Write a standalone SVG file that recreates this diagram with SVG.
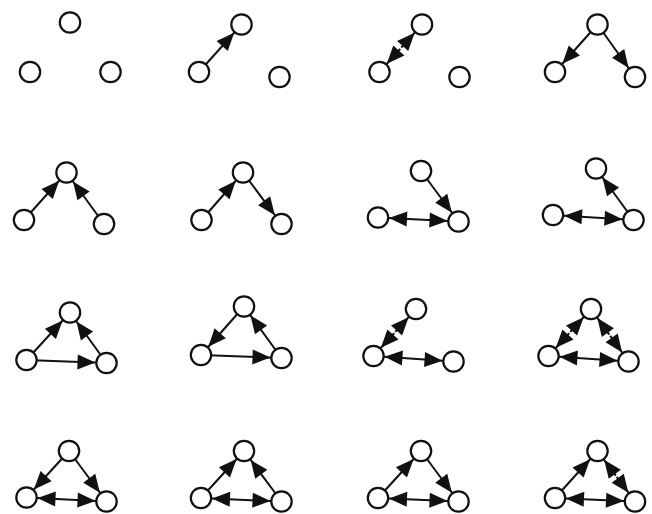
<svg xmlns="http://www.w3.org/2000/svg" width="652" height="514" viewBox="0 0 652 514">
<style>
.node circle{fill:#fff;stroke:#111;stroke-width:2.2}
.e{stroke:#111;stroke-width:2;fill:none}
.a{marker-end:url(#ah)}
.s{marker-start:url(#ah)}
.b{marker-start:url(#ah);marker-end:url(#ah)}
</style>
<defs>
<marker id="ah" markerUnits="userSpaceOnUse" markerWidth="30" markerHeight="15" refX="29" refY="7.5" orient="auto-start-reverse" overflow="visible">
<path d="M0,0 L18,7.5 L0,15 z" fill="#111"/>
</marker>
</defs>
<rect width="652" height="514" fill="#fff"/>
<g id="connectors">
<line class="e a" x1="199" y1="72" x2="241.5" y2="24.5"/>
<line class="e s" x1="379.5" y1="72" x2="400.22" y2="48.85"/>
<line class="e a" x1="401.28" y1="47.65" x2="422" y2="24.5"/>
<line class="e a" x1="597.5" y1="24.5" x2="555" y2="72"/>
<line class="e a" x1="597.5" y1="24.5" x2="635" y2="77"/>
<line class="e a" x1="24" y1="220" x2="66.5" y2="172.5"/>
<line class="e a" x1="104" y1="224" x2="66.5" y2="172.5"/>
<line class="e a" x1="201.5" y1="220" x2="243" y2="172.5"/>
<line class="e a" x1="243" y1="172.5" x2="281.5" y2="224"/>
<line class="e a" x1="421" y1="171" x2="458.5" y2="221.5"/>
<line class="e b" x1="378" y1="217.5" x2="458.5" y2="221.5"/>
<line class="e a" x1="633.5" y1="220" x2="596" y2="168.5"/>
<line class="e b" x1="553" y1="215" x2="633.5" y2="220"/>
<line class="e a" x1="26.5" y1="360" x2="70" y2="312.5"/>
<line class="e a" x1="106.5" y1="363" x2="70" y2="312.5"/>
<line class="e a" x1="26.5" y1="360" x2="106.5" y2="363"/>
<line class="e a" x1="244" y1="306.5" x2="201" y2="355"/>
<line class="e a" x1="281.5" y1="358" x2="244" y2="306.5"/>
<line class="e a" x1="201" y1="355" x2="281.5" y2="358"/>
<line class="e s" x1="373.5" y1="356" x2="394.21" y2="333.09"/>
<line class="e a" x1="395.29" y1="331.91" x2="416" y2="309"/>
<line class="e b" x1="373.5" y1="356" x2="453.5" y2="361.5"/>
<line class="e s" x1="548.5" y1="356" x2="569.21" y2="333.09"/>
<line class="e a" x1="570.29" y1="331.91" x2="591" y2="309"/>
<line class="e s" x1="591" y1="309" x2="609.29" y2="334.6"/>
<line class="e a" x1="610.21" y1="335.9" x2="628.5" y2="361.5"/>
<line class="e b" x1="548.5" y1="356" x2="628.5" y2="361.5"/>
<line class="e a" x1="69" y1="451" x2="26.5" y2="497.5"/>
<line class="e a" x1="69" y1="451" x2="106.5" y2="501.5"/>
<line class="e b" x1="26.5" y1="497.5" x2="106.5" y2="501.5"/>
<line class="e a" x1="201" y1="498" x2="244" y2="451"/>
<line class="e a" x1="281.5" y1="501.5" x2="244" y2="451"/>
<line class="e b" x1="201" y1="498" x2="281.5" y2="501.5"/>
<line class="e a" x1="378" y1="498" x2="421" y2="451"/>
<line class="e a" x1="421" y1="451" x2="458.5" y2="501.5"/>
<line class="e b" x1="378" y1="498" x2="458.5" y2="501.5"/>
<line class="e a" x1="555" y1="498" x2="597.5" y2="451"/>
<line class="e s" x1="597.5" y1="451" x2="615.77" y2="475.61"/>
<line class="e a" x1="616.73" y1="476.89" x2="635" y2="501.5"/>
<line class="e b" x1="555" y1="498" x2="635" y2="501.5"/>
</g>
<g id="m1" class="node"><circle cx="70" cy="22.5" r="10.2"/><circle cx="30" cy="72" r="10.2"/><circle cx="110.5" cy="72" r="10.2"/></g>
<g id="m2" class="node"><circle cx="241.5" cy="24.5" r="10.2"/><circle cx="199" cy="72" r="10.2"/><circle cx="279.5" cy="77" r="10.2"/></g>
<g id="m3" class="node"><circle cx="422" cy="24.5" r="10.2"/><circle cx="379.5" cy="72" r="10.2"/><circle cx="459.5" cy="77" r="10.2"/></g>
<g id="m4" class="node"><circle cx="597.5" cy="24.5" r="10.2"/><circle cx="555" cy="72" r="10.2"/><circle cx="635" cy="77" r="10.2"/></g>
<g id="m5" class="node"><circle cx="66.5" cy="172.5" r="10.2"/><circle cx="24" cy="220" r="10.2"/><circle cx="104" cy="224" r="10.2"/></g>
<g id="m6" class="node"><circle cx="243" cy="172.5" r="10.2"/><circle cx="201.5" cy="220" r="10.2"/><circle cx="281.5" cy="224" r="10.2"/></g>
<g id="m7" class="node"><circle cx="421" cy="171" r="10.2"/><circle cx="378" cy="217.5" r="10.2"/><circle cx="458.5" cy="221.5" r="10.2"/></g>
<g id="m8" class="node"><circle cx="596" cy="168.5" r="10.2"/><circle cx="553" cy="215" r="10.2"/><circle cx="633.5" cy="220" r="10.2"/></g>
<g id="m9" class="node"><circle cx="70" cy="312.5" r="10.2"/><circle cx="26.5" cy="360" r="10.2"/><circle cx="106.5" cy="363" r="10.2"/></g>
<g id="m10" class="node"><circle cx="244" cy="306.5" r="10.2"/><circle cx="201" cy="355" r="10.2"/><circle cx="281.5" cy="358" r="10.2"/></g>
<g id="m11" class="node"><circle cx="416" cy="309" r="10.2"/><circle cx="373.5" cy="356" r="10.2"/><circle cx="453.5" cy="361.5" r="10.2"/></g>
<g id="m12" class="node"><circle cx="591" cy="309" r="10.2"/><circle cx="548.5" cy="356" r="10.2"/><circle cx="628.5" cy="361.5" r="10.2"/></g>
<g id="m13" class="node"><circle cx="69" cy="451" r="10.2"/><circle cx="26.5" cy="497.5" r="10.2"/><circle cx="106.5" cy="501.5" r="10.2"/></g>
<g id="m14" class="node"><circle cx="244" cy="451" r="10.2"/><circle cx="201" cy="498" r="10.2"/><circle cx="281.5" cy="501.5" r="10.2"/></g>
<g id="m15" class="node"><circle cx="421" cy="451" r="10.2"/><circle cx="378" cy="498" r="10.2"/><circle cx="458.5" cy="501.5" r="10.2"/></g>
<g id="m16" class="node"><circle cx="597.5" cy="451" r="10.2"/><circle cx="555" cy="498" r="10.2"/><circle cx="635" cy="501.5" r="10.2"/></g>
</svg>
